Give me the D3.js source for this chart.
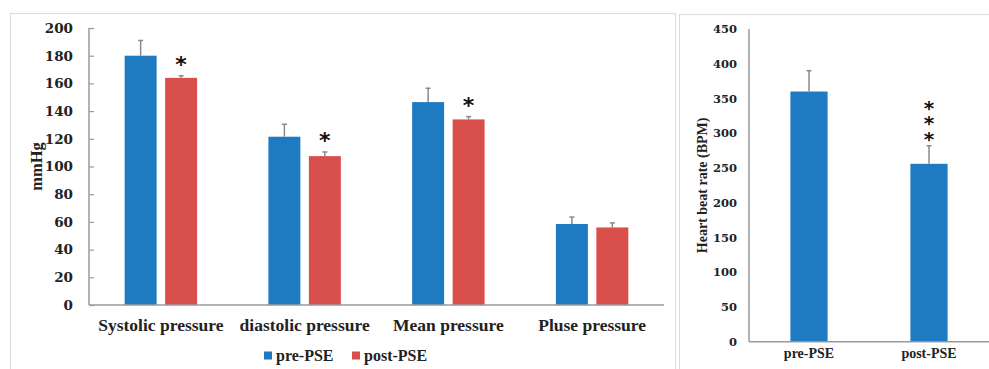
<!DOCTYPE html>
<html>
<head>
<meta charset="utf-8">
<script src="https://cdn.jsdelivr.net/npm/d3@7"></script>
<style>
  body { margin: 0; background: #fff; }
  svg { display: block; }
</style>
</head>
<body>
<svg id="chart" width="989" height="369"></svg>
<script>
// ---- Data ----
const categories = ["Systolic pressure", "diastolic pressure", "Mean pressure", "Pluse pressure"];
const seriesNames = ["pre-PSE", "post-PSE"];
const preValues = [180, 121.5, 146.5, 58.5];
const preErrors = [11, 9, 10, 5];
const postValues = [164, 107.5, 134, 56];
const postErrors = [1.5, 3, 2, 3.3];
const postSignif = ["*", "*", "*", ""];
const leftTicks = [0, 20, 40, 60, 80, 100, 120, 140, 160, 180, 200];

const hrCategories = ["pre-PSE", "post-PSE"];
const hrValues = [360, 256];
const hrErrors = [30, 26];
const hrSignif = ["", "***"];
const rightTicks = [0, 50, 100, 150, 200, 250, 300, 350, 400, 450];

const colors = { "pre-PSE": "#1f7bc1", "post-PSE": "#d94f4c" };
const axisColor = "#9a9a9a";
const errColor = "#8a8a8a";
const serif = "'Liberation Serif', 'Times New Roman', serif";
const tickFont = "'DejaVu Serif', serif";

const svg = d3.select("#chart");

// panel borders
svg.append("rect").attr("x", 10.5).attr("y", 13.5).attr("width", 665).attr("height", 380)
  .attr("fill", "none").attr("stroke", "#dcdcdc").attr("stroke-width", 1);
svg.append("rect").attr("x", 679.5).attr("y", 14.5).attr("width", 340).attr("height", 380)
  .attr("fill", "none").attr("stroke", "#dcdcdc").attr("stroke-width", 1);

// ---- Left chart ----
const L = { x0: 89, x1: 664, yTop: 28, yBot: 305 };
const yL = d3.scaleLinear().domain([0, 200]).range([L.yBot, L.yTop]);
const x0 = d3.scaleBand().domain(categories).range([L.x0, L.x1]).padding(0);
const x1 = d3.scaleBand().domain(seriesNames)
  .range([x0.bandwidth() * 0.248, x0.bandwidth() * 0.752]).paddingInner(0.21);

const gL = svg.append("g");

// y axis
const yAxisL = d3.axisLeft(yL).tickValues(leftTicks).tickSize(-5).tickPadding(16);
const gyL = gL.append("g").attr("transform", `translate(${L.x0},0)`).call(yAxisL);
gyL.select(".domain").attr("stroke", axisColor).attr("stroke-width", 1.5).attr("d", `M0,${L.yTop}V${L.yBot}`);
gyL.selectAll(".tick line").attr("stroke", axisColor).attr("stroke-width", 1.2);
gyL.selectAll(".tick text").attr("font-family", tickFont).attr("font-weight", "bold")
  .attr("font-size", 13.5).attr("fill", "#222");

// bars
const rows = categories.map((c, i) => ([
  { cat: c, s: "pre-PSE", v: preValues[i], e: preErrors[i], sig: "" },
  { cat: c, s: "post-PSE", v: postValues[i], e: postErrors[i], sig: postSignif[i] }
])).flat();

const barG = gL.append("g");
barG.selectAll("rect").data(rows).join("rect")
  .attr("x", d => x0(d.cat) + x1(d.s))
  .attr("y", d => yL(d.v))
  .attr("width", x1.bandwidth())
  .attr("height", d => yL(0) - yL(d.v))
  .attr("fill", d => colors[d.s]);

// error bars
const errG = gL.append("g").attr("stroke", errColor).attr("stroke-width", 1.5);
rows.forEach(d => {
  const cx = x0(d.cat) + x1(d.s) + x1.bandwidth() / 2;
  errG.append("line").attr("x1", cx).attr("x2", cx).attr("y1", yL(d.v)).attr("y2", yL(d.v + d.e));
  errG.append("line").attr("x1", cx - 2.5).attr("x2", cx + 2.5).attr("y1", yL(d.v + d.e)).attr("y2", yL(d.v + d.e));
});

// significance
rows.filter(d => d.sig).forEach(d => {
  const cx = x0(d.cat) + x1(d.s) + x1.bandwidth() / 2;
  gL.append("text").attr("x", cx).attr("y", yL(d.v + d.e) - 13 + 9)
    .attr("text-anchor", "middle").attr("font-family", "'DejaVu Sans', sans-serif")
    .attr("font-weight", "bold").attr("font-size", 22).attr("fill", "#111").text(d.sig);
});

// x axis
gL.append("line").attr("x1", L.x0).attr("x2", L.x1).attr("y1", L.yBot).attr("y2", L.yBot)
  .attr("stroke", axisColor).attr("stroke-width", 1.5);
gL.selectAll("text.xlab").data(categories).join("text").attr("class", "xlab")
  .attr("x", d => x0(d) + x0.bandwidth() / 2).attr("y", 331)
  .attr("text-anchor", "middle").attr("font-family", serif).attr("font-weight", "bold")
  .attr("font-size", 17.5).attr("fill", "#222").text(d => d);

// y title
gL.append("text").attr("transform", `translate(42,${(L.yTop + L.yBot) / 2}) rotate(-90)`)
  .attr("text-anchor", "middle").attr("font-family", serif).attr("font-weight", "bold")
  .attr("font-size", 16.5).attr("fill", "#222").text("mmHg");

// legend
const legend = gL.append("g");
const legX = [264, 352];
seriesNames.forEach((s, i) => {
  legend.append("rect").attr("x", legX[i]).attr("y", 351.5).attr("width", 8).attr("height", 8).attr("fill", colors[s]);
  legend.append("text").attr("x", legX[i] + 12).attr("y", 360.5).attr("font-family", serif)
    .attr("font-weight", "bold").attr("font-size", 16).attr("fill", "#222").text(s);
});

// ---- Right chart ----
const R = { x0: 749, x1: 989, yTop: 29, yBot: 341.7 };
const yR = d3.scaleLinear().domain([0, 450]).range([R.yBot, R.yTop]);
const xR = d3.scaleBand().domain(hrCategories).range([R.x0, R.x1]).paddingInner(0.69).paddingOuter(0.345);

const gR = svg.append("g");
const yAxisR = d3.axisLeft(yR).tickValues(rightTicks).tickSize(0).tickPadding(12);
const gyR = gR.append("g").attr("transform", `translate(${R.x0},0)`).call(yAxisR);
gyR.select(".domain").attr("stroke", axisColor).attr("stroke-width", 1.5).attr("d", `M0,${R.yTop}V${R.yBot}`);
gyR.selectAll(".tick text").attr("font-family", tickFont).attr("font-weight", "bold")
  .attr("font-size", 11.5).attr("fill", "#222");

const hrRows = hrCategories.map((c, i) => ({ cat: c, v: hrValues[i], e: hrErrors[i], sig: hrSignif[i] }));
gR.append("g").selectAll("rect").data(hrRows).join("rect")
  .attr("x", d => xR(d.cat)).attr("y", d => yR(d.v))
  .attr("width", xR.bandwidth()).attr("height", d => yR(0) - yR(d.v))
  .attr("fill", colors["pre-PSE"]);

const errR = gR.append("g").attr("stroke", errColor).attr("stroke-width", 1.5);
hrRows.forEach(d => {
  const cx = xR(d.cat) + xR.bandwidth() / 2;
  errR.append("line").attr("x1", cx).attr("x2", cx).attr("y1", yR(d.v)).attr("y2", yR(d.v + d.e));
  errR.append("line").attr("x1", cx - 2.5).attr("x2", cx + 2.5).attr("y1", yR(d.v + d.e)).attr("y2", yR(d.v + d.e));
});
// stacked asterisks as one vertical text
hrRows.filter(d => d.sig).forEach(d => {
  const cx = xR(d.cat) + xR.bandwidth() / 2;
  const n = d.sig.length;
  gR.append("text")
    .attr("x", cx)
    .attr("y", yR(d.v + d.e) - 10 - (n - 1) * 15 - 10)
    .attr("text-anchor", "start")
    .style("writing-mode", "vertical-rl")
    .style("text-orientation", "upright")
    .style("letter-spacing", "-8.3px")
    .attr("font-family", "'DejaVu Sans', sans-serif")
    .attr("font-weight", "bold").attr("font-size", 20).attr("fill", "#111")
    .text(d.sig);
});

gR.append("line").attr("x1", R.x0).attr("x2", R.x1).attr("y1", R.yBot).attr("y2", R.yBot)
  .attr("stroke", axisColor).attr("stroke-width", 1.5);
gR.selectAll("text.xlab").data(hrCategories).join("text").attr("class", "xlab")
  .attr("x", d => xR(d) + xR.bandwidth() / 2).attr("y", 358)
  .attr("text-anchor", "middle").attr("font-family", serif).attr("font-weight", "bold")
  .attr("font-size", 14).attr("fill", "#222").text(d => d);

gR.append("text").attr("transform", `translate(707,${(R.yTop + R.yBot) / 2}) rotate(-90)`)
  .attr("text-anchor", "middle").attr("font-family", serif).attr("font-weight", "bold")
  .attr("font-size", 14).attr("fill", "#222").text("Heart beat rate (BPM)");
</script>
</body>
</html>
